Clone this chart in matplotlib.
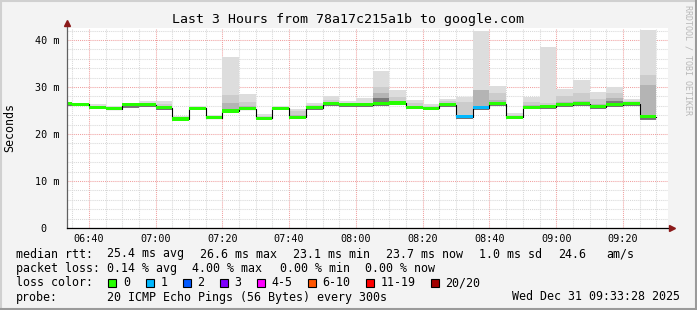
import numpy as np
import pandas as pd
import matplotlib
matplotlib.use('Agg')
import matplotlib.pyplot as plt
import matplotlib.dates as mdates
from matplotlib.patches import Rectangle
from matplotlib.lines import Line2D

plt.rcParams['font.family'] = 'DejaVu Sans Mono'

W, H = 697, 310

# rrd samples, each bar covers the 5 minutes ending at its timestamp
end_times = pd.date_range('2025-12-31 06:35', '2025-12-31 09:30', freq='5min')
view_start = pd.Timestamp('2025-12-31 06:33:28')
view_end = pd.Timestamp('2025-12-31 09:33:28')

median = [26.4, 26.3, 25.7, 25.4, 26.2, 26.2, 25.6, 23.2, 25.5, 23.5,
          24.9, 25.4, 23.3, 25.5, 23.6, 25.6, 26.4, 26.2, 26.2, 26.4,
          26.6, 25.7, 25.5, 26.2, 23.7, 25.6, 26.4, 23.6, 25.7, 25.8,
          26.2, 26.4, 25.8, 26.2, 26.4, 23.7]
smoke_max = [26.8, 26.7, 26.4, 26.0, 26.4, 27.1, 27.1, 23.9, 26.0, 24.1,
             36.4, 28.5, 24.3, 25.9, 25.4, 26.5, 28.0, 27.0, 27.6, 33.5,
             29.4, 27.3, 26.4, 27.5, 27.9, 42.0, 30.2, 24.5, 27.9, 38.6,
             29.6, 31.5, 28.9, 29.9, 27.4, 42.1]
smoke_min = [26.0, 25.9, 25.3, 25.0, 25.6, 25.8, 25.2, 22.9, 25.1, 23.1,
             24.5, 25.0, 22.9, 25.1, 23.2, 25.2, 26.0, 25.8, 25.8, 26.0,
             26.2, 25.3, 25.1, 25.8, 23.2, 25.2, 26.0, 23.2, 25.3, 25.4,
             25.8, 26.0, 25.4, 25.8, 26.0, 22.9]
smoke_hi = [26.6, 26.5, 26.0, 25.7, 26.3, 26.6, 26.3, 23.6, 25.8, 23.9,
            28.2, 26.9, 23.8, 25.7, 24.8, 26.1, 27.3, 26.6, 26.6, 29.9,
            27.8, 26.5, 26.0, 27.0, 26.9, 29.4, 28.7, 24.1, 26.8, 26.6,
            28.0, 28.8, 27.4, 28.7, 27.0, 32.6]
smoke_core = [26.5, 26.4, 25.8, 25.5, 26.2, 26.3, 25.8, 23.4, 25.6, 23.7,
              26.7, 26.0, 23.5, 25.6, 24.0, 25.8, 26.8, 26.4, 26.3, 28.7,
              27.1, 26.0, 25.7, 26.6, 24.0, 29.4, 27.2, 23.8, 26.1, 26.1,
              26.8, 27.0, 26.4, 27.6, 26.7, 30.4]
smoke_dark = [26.4, 26.3, 25.7, 25.4, 26.2, 26.2, 25.6, 23.2, 25.5, 23.5,
              25.4, 25.4, 23.3, 25.5, 23.8, 25.6, 26.4, 26.2, 26.2, 27.6,
              26.8, 25.7, 25.5, 26.4, 23.7, 25.6, 26.4, 23.6, 25.7, 25.8,
              26.2, 26.7, 25.8, 27.0, 26.4, 23.7]
loss = [0, 0, 0, 0, 0, 0, 0, 0, 0, 0,
        0, 0, 0, 0, 0, 0, 0, 0, 0, 0,
        0, 0, 0, 0, 1, 1, 0, 0, 0, 0,
        0, 0, 0, 0, 0, 0]

loss_labels = ['0', '1', '2', '3', '4-5', '6-10', '11-19', '20/20']
loss_colors = ['#26ff00', '#00b8ff', '#0059ff', '#7e00ff', '#ff00ff',
               '#ff5500', '#ff0000', '#a10000']

title = 'Last 3 Hours from 78a17c215a1b to google.com'


def px(x, y):
    return x / W, 1 - y / H


fig = plt.figure(figsize=(W / 100, H / 100), dpi=100, facecolor='#f3f3f3')
ax = fig.add_axes([67 / W, 1 - 228 / H, 601 / W, 200 / H])
ax.set_facecolor('white')

t_end = mdates.date2num(end_times)
width = 5 / 1440
left = t_end - width
med = np.array(median)
lo = np.array(smoke_min)

# smoke, from the outer pings to the ones close to the median
layers = [(smoke_max, '#dddddd'), (smoke_hi, '#cccccc'),
          (smoke_core, '#b4b4b4'), (smoke_dark, '#7a7a7a')]
for top, col in layers:
    top = np.array(top)
    ax.bar(left, top - lo, width=width, bottom=lo, align='edge',
           color=col, linewidth=0, zorder=2)

# median: black step line + loss coloured band
ax.step(np.append(left, t_end[-1]), np.append(med, med[-1]), where='post',
        color='black', lw=0.8, zorder=3)
band = [loss_colors[l] for l in loss]
ax.bar(left, 0.66, width=width, bottom=med - 0.33, align='edge',
       color=band, linewidth=0, zorder=4)

ax.set_xlim(mdates.date2num(view_start), mdates.date2num(view_end))
ax.set_ylim(0, 42.55)
ax.xaxis.set_major_locator(mdates.MinuteLocator(byminute=[0, 20, 40]))
ax.xaxis.set_minor_locator(mdates.MinuteLocator(byminute=range(0, 60, 5)))
ax.xaxis.set_major_formatter(mdates.DateFormatter('%H:%M'))
ax.set_yticks([0, 10, 20, 30, 40])
ax.set_yticklabels(['0  ', '10 m', '20 m', '30 m', '40 m'])
ax.set_yticks(np.arange(0, 43, 2), minor=True)

ax.grid(which='minor', color='#d8d8d8', lw=0.75, ls=(0, (1, 1)), zorder=1)
ax.grid(which='major', color='#f0a0a0', lw=0.75, ls=(0, (1, 1)), zorder=1)
ax.set_axisbelow(True)
ax.tick_params(which='both', length=0)
ax.tick_params(axis='x', labelsize=7.3, pad=4.5)
ax.tick_params(axis='y', labelsize=7.3, pad=5.5)
for s in ax.spines.values():
    s.set_visible(False)

# axes with rrdtool arrows
ax.plot([0, 0], [0, 1.015], transform=ax.transAxes, color='#606060',
        lw=0.9, clip_on=False, zorder=5)
ax.plot([0, 1.005], [0, 0], transform=ax.transAxes, color='black',
        lw=0.9, clip_on=False, zorder=5)
ax.plot([0], [1.023], transform=ax.transAxes, marker='^', ms=4.2,
        color='#8b1a1a', clip_on=False, zorder=6)
ax.plot([1.006], [0], transform=ax.transAxes, marker='>', ms=4.2,
        color='#8b1a1a', clip_on=False, zorder=6)

fig.text(*px(347.5, 19), title, ha='center', va='center', fontsize=9.5)
fig.text(*px(10, 128), 'Seconds', rotation=90, ha='center', va='center',
         fontsize=8.4)
fig.text(*px(688, 5), 'RRDTOOL / TOBI OETIKER', rotation=270, ha='center',
         va='top', fontsize=6, color='#b8b8b8')

fs = 8.4
row1 = [(16, 'median rtt:'), (107.3, '25.4 ms avg'), (200, '26.6 ms max'),
        (293.3, '23.1 ms min'), (386, '23.7 ms now'), (479.3, '1.0 ms sd'),
        (558.3, '24.6'), (606.7, 'am/s')]
row2 = [(16, 'packet loss:'), (107.3, '0.14 % avg'), (191.7, '4.00 % max'),
        (280, '0.00 % min'), (365, '0.00 % now')]
for x, s in row1:
    fig.text(*px(x, 254), s, va='center', fontsize=fs)
for x, s in row2:
    fig.text(*px(x, 268.5), s, va='center', fontsize=fs)

fig.text(*px(16, 282.5), 'loss color:', va='center', fontsize=fs)
box_x = [108.3, 145.7, 182.7, 219.7, 256.7, 307.7, 366, 430.7]
for bx, lab, col in zip(box_x, loss_labels, loss_colors):
    fig.add_artist(Rectangle(px(bx, 286.5), 8 / W, 8 / H, transform=fig.transFigure,
                             facecolor=col, edgecolor='black', lw=0.8))
    fig.text(*px(bx + 14.5, 282.5), lab, va='center', fontsize=fs)

fig.text(*px(16, 297), 'probe:', va='center', fontsize=fs)
fig.text(*px(107.3, 297), '20 ICMP Echo Pings (56 Bytes) every 300s',
         va='center', fontsize=fs)
fig.text(*px(680.5, 297), 'Wed Dec 31 09:33:28 2025', ha='right',
         va='center', fontsize=fs)

# frame around the image
fig.add_artist(Line2D([0, 1], [1 - 1 / H, 1 - 1 / H], transform=fig.transFigure,
                      color='#d0d0d0', lw=1.5))
fig.add_artist(Line2D([0.5 / W, 0.5 / W], [0, 1], transform=fig.transFigure,
                      color='#d0d0d0', lw=1.5))
fig.add_artist(Line2D([0, 1], [1 / H, 1 / H], transform=fig.transFigure,
                      color='#9a9a9a', lw=1.5))
fig.add_artist(Line2D([1 - 1 / W, 1 - 1 / W], [0, 1], transform=fig.transFigure,
                      color='#9a9a9a', lw=1.5))

fig.savefig('out.png', dpi=100, facecolor=fig.get_facecolor())
